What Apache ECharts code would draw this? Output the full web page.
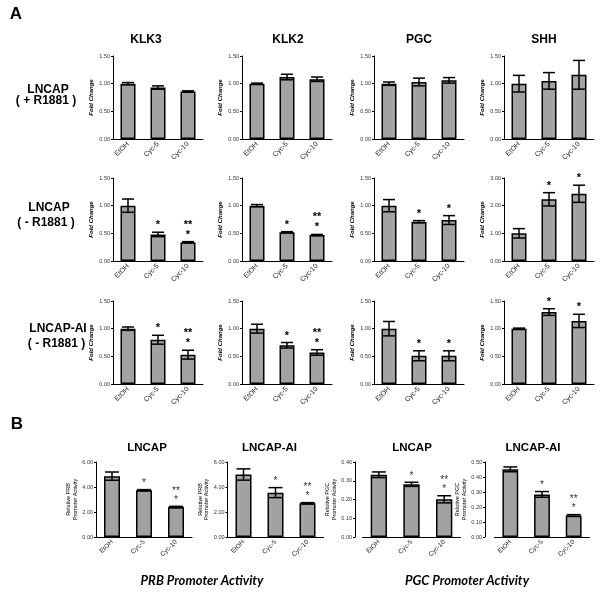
<!DOCTYPE html>
<html><head><meta charset="utf-8">
<script src="https://cdn.jsdelivr.net/npm/echarts@6/dist/echarts.min.js"></script>
<style>html,body{margin:0;padding:0;background:#fff}#c{width:600px;height:596px}</style>
</head><body><div id="c"></div>
<script>
// ---------- DATA ----------
const categories = ['EtOH', 'Cyc-5', 'Cyc-10'];
const geneTitles = ['KLK3', 'KLK2', 'PGC', 'SHH'];
const rowLabels = [['LNCAP', '( + R1881 )'], ['LNCAP', '( - R1881 )'], ['LNCAP-AI', '( - R1881 )']];
const promoterTitles = ['LNCAP', 'LNCAP-AI', 'LNCAP', 'LNCAP-AI'];
const promoterCaptions = ['PRB Promoter Activity', 'PGC Promoter Activity'];

// Row 1: LNCAP (+R1881)
const klk3Plus = [1.00, 0.93, 0.86], klk3PlusErr = [0.02, 0.03, 0.01];
const klk2Plus = [1.00, 1.12, 1.08], klk2PlusErr = [0.01, 0.05, 0.04];
const pgcPlus = [1.00, 1.03, 1.06], pgcPlusErr = [0.03, 0.07, 0.05];
const shhPlus = [1.00, 1.05, 1.16], shhPlusErr = [0.15, 0.15, 0.26];
// Row 2: LNCAP (-R1881)
const klk3Minus = [1.00, 0.48, 0.34], klk3MinusErr = [0.12, 0.04, 0.01];
const klk2Minus = [1.00, 0.52, 0.47], klk2MinusErr = [0.02, 0.01, 0.01];
const pgcMinus = [1.00, 0.71, 0.74], pgcMinusErr = [0.11, 0.02, 0.08];
const shhMinus = [1.00, 2.23, 2.43], shhMinusErr = [0.17, 0.24, 0.31];
// Row 3: LNCAP-AI (-R1881)
const klk3AI = [1.00, 0.80, 0.53], klk3AIErr = [0.03, 0.08, 0.08];
const klk2AI = [1.00, 0.70, 0.57], klk2AIErr = [0.08, 0.05, 0.05];
const pgcAI = [1.00, 0.51, 0.51], pgcAIErr = [0.13, 0.09, 0.09];
const shhAI = [1.00, 1.30, 1.14], shhAIErr = [0.01, 0.06, 0.12];
// Panel B: promoter activity
const prbLncap = [4.87, 3.74, 2.40], prbLncapErr = [0.33, 0.05, 0.05];
const prbLncapAI = [5.00, 3.55, 2.70], prbLncapAIErr = [0.45, 0.40, 0.05];
const pgcPromLncap = [0.332, 0.281, 0.201], pgcPromLncapErr = [0.015, 0.011, 0.019];
const pgcPromLncapAI = [0.451, 0.284, 0.143], pgcPromLncapAIErr = [0.016, 0.019, 0.006];

// significance marks
const sigNone = ['', '', ''];
const sigBoth = ['', '*', '**\n*'];
const sigSingle = ['', '*', '*'];

// y-axis tick settings
const foldTicks = { max: 1.5, interval: 0.5 };
const shhTicks = { max: 3, interval: 1 };
const prbTicks = { max: 6, interval: 2 };
const pgcLncapTicks = { max: 0.4, interval: 0.1 };
const pgcAITicks = { max: 0.5, interval: 0.1 };

// ---------- LAYOUT ----------
const FONT = '"Liberation Sans", Arial, sans-serif';
const NARROW = '"Liberation Sans Narrow", "Liberation Sans", Arial, sans-serif';
const colLeftA = [113, 242, 374, 504];
const rowTopA = [56, 178, 301];

const panels = [];
const rowData = [
  [[klk3Plus, klk3PlusErr, sigNone, foldTicks], [klk2Plus, klk2PlusErr, sigNone, foldTicks], [pgcPlus, pgcPlusErr, sigNone, foldTicks], [shhPlus, shhPlusErr, sigNone, foldTicks]],
  [[klk3Minus, klk3MinusErr, sigBoth, foldTicks], [klk2Minus, klk2MinusErr, sigBoth, foldTicks], [pgcMinus, pgcMinusErr, sigSingle, foldTicks], [shhMinus, shhMinusErr, sigSingle, shhTicks]],
  [[klk3AI, klk3AIErr, sigBoth, foldTicks], [klk2AI, klk2AIErr, sigBoth, foldTicks], [pgcAI, pgcAIErr, sigSingle, foldTicks], [shhAI, shhAIErr, sigSingle, foldTicks]]
];
rowData.forEach((row, r) => row.forEach((d, c) => {
  panels.push({ means: d[0], errs: d[1], sig: d[2], ticks: d[3], left: colLeftA[c], top: rowTopA[r], width: 90, height: 83,
    name: 'Fold Change', kind: 'A', offset: 0 });
}));
const bData = [
  [prbLncap, prbLncapErr, sigBoth, prbTicks, 'Relative PRB\nPromoter Activity', 96, 96, 0],
  [prbLncapAI, prbLncapAIErr, sigBoth, prbTicks, 'Relative PRB\nPromoter Activity', 227.5, 96, 0],
  [pgcPromLncap, pgcPromLncapErr, sigBoth, pgcLncapTicks, 'Relative PGC\nPromoter Activity', 362.5, 98, 7.5],
  [pgcPromLncapAI, pgcPromLncapAIErr, sigBoth, pgcAITicks, 'Relative PGC\nPromoter Activity', 494.5, 95, 9.5]
];
bData.forEach(d => panels.push({ means: d[0], errs: d[1], sig: d[2], ticks: d[3], name: d[4], left: d[5], width: d[6], offset: d[7], top: 462, height: 75, kind: 'B' }));

const grid = [], xAxis = [], yAxis = [], series = [];
panels.forEach((p, i) => {
  const isA = p.kind === 'A';
  grid.push({ left: p.left, top: p.top, width: p.width, height: p.height, containLabel: false });
  xAxis.push({
    type: 'category', gridIndex: i, data: categories,
    axisLine: { lineStyle: { color: '#000', width: 1 } },
    axisTick: { alignWithLabel: true, length: 2, lineStyle: { color: '#000' } },
    axisLabel: { rotate: 45, fontSize: isA ? 7 : 6.5, color: '#222', fontFamily: FONT, margin: 4, interval: 0 }
  });
  yAxis.push({
    type: 'value', gridIndex: i, min: 0, max: p.ticks.max, interval: p.ticks.interval, offset: p.offset,
    axisLine: { show: true, lineStyle: { color: '#000', width: 1 } },
    axisTick: { show: true, length: 2, lineStyle: { color: '#000' } },
    splitLine: { show: false },
    axisLabel: { fontSize: 5.5, color: '#333', fontFamily: FONT, margin: 3, formatter: v => v.toFixed(2) },
    name: p.name, nameLocation: 'middle', nameRotate: 90, nameGap: isA ? 19 : 15,
    nameTextStyle: isA ? { fontSize: 6, fontStyle: 'italic', fontWeight: 'bold', color: '#000', fontFamily: NARROW }
                       : { fontSize: 5.5, color: '#000', fontFamily: FONT, lineHeight: 6.5 }
  });
  series.push({
    type: 'bar', xAxisIndex: i, yAxisIndex: i, data: p.means, barWidth: '50%',
    itemStyle: { color: '#a2a2a2', borderColor: '#000', borderWidth: 1.5 }, silent: true, animation: false
  });
  const cap = isA ? 6 : 7;
  const sigs = p.sig;
  series.push({
    type: 'custom', xAxisIndex: i, yAxisIndex: i, animation: false, silent: true, z: 5,
    data: p.means.map((m, k) => [k, m, p.errs[k]]),
    renderItem: (params, api) => {
      const k = api.value(0), m = api.value(1), e = api.value(2);
      const top = api.coord([k, m + e]), bot = api.coord([k, m - e]);
      const x = top[0];
      const st = { stroke: '#000', lineWidth: 1.5 };
      const ch = [
        { type: 'line', shape: { x1: x, y1: top[1], x2: x, y2: bot[1] }, style: st },
        { type: 'line', shape: { x1: x - cap, y1: top[1], x2: x + cap, y2: top[1] }, style: st },
        { type: 'line', shape: { x1: x - cap, y1: bot[1], x2: x + cap, y2: bot[1] }, style: st }
      ];
      const s = sigs[params.dataIndex];
      if (s) ch.push({ type: 'text', style: { text: s, x: x, y: top[1] - 2, align: 'center', verticalAlign: 'bottom',
        font: isA ? 'bold 11px ' + FONT : '10px ' + FONT, lineHeight: isA ? 10 : 9, fill: isA ? '#000' : '#333' } });
      return { type: 'group', children: ch };
    }
  });
});

// ---------- TEXT ----------
const graphic = [];
function txt(t, x, y, font, extra) {
  graphic.push(Object.assign({ type: 'text', x: x, y: y, style: { text: t, font: font, fill: '#000', align: 'center', verticalAlign: 'middle' } }, extra || {}));
}
txt('A', 16, 14, 'bold 17px ' + FONT);
txt('B', 17, 424, 'bold 17px ' + FONT);
const geneTitleX = [146, 288, 419, 544];
geneTitles.forEach((t, c) => txt(t, geneTitleX[c], 40, 'bold 12px ' + FONT));
const rowLabelPos = [[48, 89.5, 46, 101], [49, 208, 46, 223], [58, 329, 56.5, 343.5]];
rowLabels.forEach((l, r) => {
  txt(l[0], rowLabelPos[r][0], rowLabelPos[r][1], 'bold 12px ' + FONT);
  txt(l[1], rowLabelPos[r][2], rowLabelPos[r][3], 'bold 12px ' + FONT);
});
const promTitleX = [147, 269.5, 412, 533];
promoterTitles.forEach((t, c) => txt(t, promTitleX[c], 448, 'bold 11.5px ' + FONT));
const capX = [202, 467];
promoterCaptions.forEach((t, c) => txt(t, capX[c], 581, 'italic bold 13px Lato, "Open Sans", sans-serif'));

const chart = echarts.init(document.getElementById('c'), null, { renderer: 'canvas' });
chart.setOption({ animation: false, grid, xAxis, yAxis, series, graphic });
</script>
</body></html>
